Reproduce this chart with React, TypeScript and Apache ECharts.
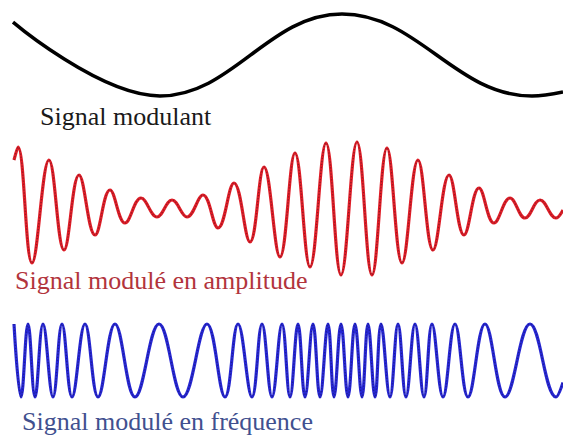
import React, { useEffect, useRef } from "react";
import * as echarts from "echarts";

// Modulating signal: extrema (time, amplitude)
const modT = [13, 160, 342, 532, 563];
const modV = [0.8, -1, 1, -1, -0.9];

// AM signal: successive peaks / troughs (time, amplitude)
const amT = [14, 18, 32, 49, 64, 79, 95, 110, 125, 141, 157, 172, 187, 203, 218, 234, 250, 264, 280, 295, 310, 326, 341, 357, 372, 387, 402, 418, 433, 449, 464, 479, 494, 510, 525, 540, 556, 563];
const amV = [48, 61, -55, 48, -42, 33, -27, 18, -15, 10, -9, 8, -9, 13, -20, 25, -34, 41, -49, 55, -59, 65, -67, 66, -67, 60, -55, 48, -42, 33, -27, 20, -15, 10, -10, 8, -10, -2];

// FM signal: successive peaks / troughs (time, amplitude)
const fmT = [14, 21, 28, 35, 43, 53, 62, 72, 85, 98, 115, 135, 159, 183, 207, 225, 238, 252, 262, 272, 282, 290, 298, 305, 313, 320, 328, 334, 341, 348, 355, 362, 368, 375, 381, 390, 398, 406, 415, 424, 432, 443, 455, 468, 485, 505, 530, 556, 563];
const fmV = [1, -1, 1, -1, 1, -1, 1, -1, 1, -1, 1, -1, 1, -1, 1, -1, 1, -1, 1, -1, 1, -1, 1, -1, 1, -1, 1, -1, 1, -1, 1, -1, 1, -1, 1, -1, 1, -1, 1, -1, 1, -1, 1, -1, 1, -1, 1, -1, -0.6];

const labels = ["Signal modulant", "Signal modulé en amplitude", "Signal modulé en fréquence"];

const zip = (t: number[], v: number[]) => t.map((x, i) => [x, v[i]]);

export default function App() {
  const ref = useRef<HTMLDivElement>(null);
  useEffect(() => {
    const chart = echarts.init(ref.current!, null, { renderer: "svg" });
    const font = "26px 'Liberation Serif', 'Times New Roman', serif";
    const lineBase = {
      type: "line",
      symbol: "none",
      showSymbol: false,
      smooth: 0.4,
      clip: false,
      silent: true,
    };
    chart.setOption({
      animation: false,
      backgroundColor: "#ffffff",
      grid: [
        { left: 0, width: 563, top: 14, height: 82 },
        { left: 0, width: 563, top: 138, height: 140 },
        { left: 0, width: 563, top: 324, height: 73 },
      ],
      xAxis: [0, 1, 2].map((i) => ({ type: "value", gridIndex: i, min: 0, max: 563, show: false })),
      yAxis: [
        { type: "value", gridIndex: 0, min: -1, max: 1, show: false },
        { type: "value", gridIndex: 1, min: -70, max: 70, show: false },
        { type: "value", gridIndex: 2, min: -1, max: 1, show: false },
      ],
      series: [
        { ...lineBase, xAxisIndex: 0, yAxisIndex: 0, data: zip(modT, modV), lineStyle: { color: "#000000", width: 3.5 } },
        { ...lineBase, xAxisIndex: 1, yAxisIndex: 1, data: zip(amT, amV), lineStyle: { color: "#e01e28", width: 3.2 } },
        { ...lineBase, xAxisIndex: 1, yAxisIndex: 1, data: zip(amT, amV), lineStyle: { color: "rgba(90,20,30,0.55)", width: 1.3, type: [1.2, 1.8] } },
        { ...lineBase, xAxisIndex: 2, yAxisIndex: 2, data: zip(fmT, fmV), lineStyle: { color: "#2727d4", width: 3.2 } },
        { ...lineBase, xAxisIndex: 2, yAxisIndex: 2, data: zip(fmT, fmV), lineStyle: { color: "rgba(20,20,90,0.5)", width: 1.3, type: [1.2, 1.8] } },
      ],
      graphic: [
        { type: "text", x: 40, y: 116, style: { text: labels[0], font, fill: "#1a1a1a", verticalAlign: "middle" } },
        { type: "text", x: 15, y: 280, style: { text: labels[1], font, fill: "#b2343c", verticalAlign: "middle" } },
        { type: "text", x: 22, y: 421, style: { text: labels[2], font, fill: "#41508f", verticalAlign: "middle" } },
      ],
    });
    return () => chart.dispose();
  }, []);
  return <div ref={ref} style={{ position: "absolute", left: 0, top: 0, width: 563, height: 437 }} />;
}
